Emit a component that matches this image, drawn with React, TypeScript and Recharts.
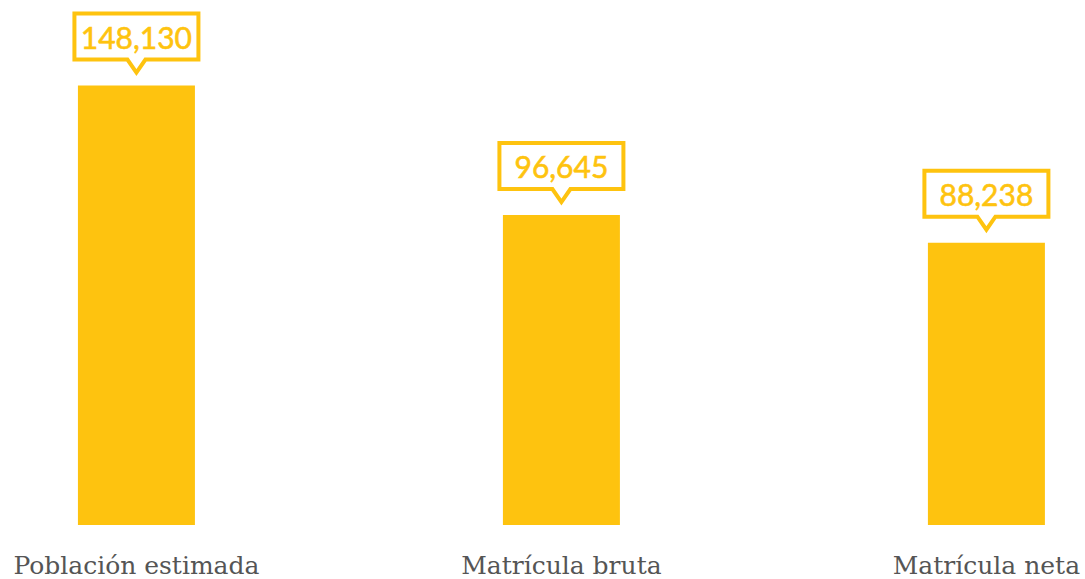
import React from 'react';
import { BarChart, Bar, XAxis, YAxis, LabelList } from 'recharts';

const categories = ['Población estimada', 'Matrícula bruta', 'Matrícula neta'];
const values = [148130, 96645, 88238];
const positions = [0, 1, 2];

const YELLOW = '#FEC30F';

const data = categories.map((c, i) => ({ idx: positions[i], name: c, value: values[i] }));

const Callout = (props: any) => {
  const { x, y, width, value } = props;
  const cx = x + width / 2;
  const L = cx - 62;
  const R = cx + 62;
  const T = y - 72;
  const B = y - 26;
  const tipY = y - 13;
  const d = `M${L},${T} H${R} V${B} H${cx + 9} L${cx},${tipY} L${cx - 9},${B} H${L} Z`;
  return (
    <g>
      <path d={d} fill="#fff" stroke={YELLOW} strokeWidth={4} strokeLinejoin="miter" />
      <text
        x={cx}
        y={y - 37}
        textAnchor="middle"
        fill={YELLOW}
        stroke={YELLOW}
        strokeWidth={0.6}
        fontFamily="Lato"
        fontWeight={400}
        fontSize={30}
      >
        {Number(value).toLocaleString('en-US')}
      </text>
    </g>
  );
};

const Tick = (props: any) => {
  const { x, y, payload } = props;
  return (
    <text
      x={x}
      y={y}
      dy={41}
      textAnchor="middle"
      fill="#555"
      fontFamily="'DejaVu Serif'"
      fontSize={25}
    >
      {categories[payload.value]}
    </text>
  );
};

export default function App() {
  return (
    <div style={{ position: 'absolute', left: 0, top: 0, width: 1085, height: 579, background: '#fff' }}>
      <BarChart width={1085} height={579} data={data} margin={{ top: 10, right: 0, bottom: 0, left: 0 }}>
        <XAxis
          type="number"
          dataKey="idx"
          domain={[-0.321, 2.232]}
          ticks={positions}
          tick={<Tick />}
          axisLine={false}
          tickLine={false}
          height={54}
          interval={0}
          allowDataOverflow
        />
        <YAxis
          type="number"
          scale="log"
          domain={[34800, 190000]}
          allowDataOverflow
          hide
        />
        <Bar dataKey="value" fill={YELLOW} barSize={117} isAnimationActive={false}>
          <LabelList dataKey="value" content={<Callout />} />
        </Bar>
      </BarChart>
    </div>
  );
}
